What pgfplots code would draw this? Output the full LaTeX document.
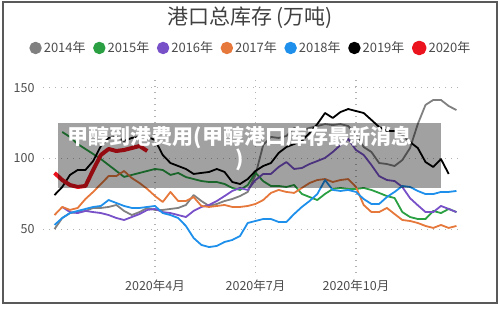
\documentclass[border=0pt]{standalone}
\usepackage{fontspec}
\setmainfont{Noto Sans CJK SC}
\usepackage{pgfplots}
\pgfplotsset{compat=1.18}
\definecolor{c14}{HTML}{808080}
\definecolor{c15}{HTML}{2AA043}
\definecolor{c16}{HTML}{7850C8}
\definecolor{c17}{HTML}{E6783C}
\definecolor{c18}{HTML}{1E90EB}
\definecolor{c19}{HTML}{000000}
\definecolor{c20}{HTML}{EB141E}
\begin{document}
\begin{tikzpicture}[x=1pt,y=1pt]
\useasboundingbox (0,0) rectangle (500,310);
\draw[line width=1.5pt, draw=black!65] (3,7) rectangle (497,308);
\node[font=\fontsize{21}{24}\selectfont, text=black!75] at (250,292) {港口总库存 (万吨)};
\begin{axis}[
  at={(43pt,37pt)}, anchor=south west,
  width=420pt, height=195pt, scale only axis,
  xmin=-1.49, xmax=52.85, ymin=19.2, ymax=156.8,
  axis line style={draw=none}, tick style={draw=none},
  xtick={13,26,39}, xticklabels={2020年4月,2020年7月,2020年10月},
  ytick={50,100,150},
  grid=major,
  grid style={line width=1.1pt, dash pattern=on 1.1pt off 4.9pt, color=black!30},
  ticklabel style={font=\fontsize{12.5}{14}\selectfont, text=black!70},
  yticklabel style={xshift=-5pt},
  xticklabel style={yshift=-3pt},
  /pgf/number format/assume math mode=true,
  legend columns=-1,
  legend style={at={(0.495,1.154)}, anchor=center, draw=none, fill=none,
    font=\fontsize{13}{15}\selectfont, text=black!70,
    /tikz/every even column/.append style={column sep=5.5pt}},
  legend image code/.code={\fill[#1] (0pt,0pt) circle (5.3pt);},
  every axis plot/.append style={line width=1.8pt, line join=round, mark=none},
]
\addplot[c14] coordinates {(0,50.2)(1,58)(2,61.5)(3,62.2)(4,63)(5,65.1)(6,65.1)(7,65.8)(8,67.2)(9,63)(10,60.1)(11,62.2)(12,65.1)(13,63.7)(14,63.7)(15,64.4)(16,65.1)(17,67.2)(18,74.2)(19,70)(20,66.5)(21,67.9)(22,70)(23,71.4)(24,73.5)(25,76.4)(26,88.4)(27,109.5)(28,115.2)(29,114.5)(30,115.9)(31,121.5)(32,120.1)(33,121.5)(34,122.9)(35,124.3)(36,123.6)(37,124.3)(38,122.9)(39,116.6)(40,108.1)(41,104.6)(42,96.8)(43,96.1)(44,94.7)(45,98.9)(46,107.4)(47,124.3)(48,137.8)(49,141.3)(50,141.3)(51,137)(52,134.2)};
\addlegendentry{2014年}
\addplot[c15] coordinates {(1,118.7)(2,115.2)(3,110.2)(4,106.7)(5,103.2)(6,99.6)(7,95.4)(8,91.2)(9,87)(10,88.4)(11,89.8)(12,91.2)(13,92.6)(14,91.9)(15,88.4)(16,89.8)(17,86.9)(18,85.5)(19,84.1)(20,83.4)(21,83.4)(22,82)(23,79.2)(24,77.8)(25,81.3)(26,90)(27,84)(28,80.6)(29,80.6)(30,79.9)(31,81.3)(32,75)(33,72.8)(34,70.7)(35,75)(36,78.5)(37,79.2)(38,78.5)(39,78.5)(40,79.2)(41,77.8)(42,75.7)(43,73.5)(44,72.1)(45,62.2)(46,58.7)(47,57.3)(48,57.3)(49,63)(50,61.5)(51,64.4)(52,62.2)};
\addlegendentry{2015年}
\addplot[c16] coordinates {(1,65.8)(2,62.2)(3,61.5)(4,63)(5,62.2)(6,61.5)(7,60.1)(8,58)(9,56.6)(10,58.7)(11,60.8)(12,63.7)(13,64.4)(14,62.2)(15,61.5)(16,60.1)(17,58.7)(18,63)(19,65.8)(20,67.2)(21,70)(22,73.5)(23,77.1)(24,79.2)(25,77.8)(26,84.8)(27,89.1)(28,89.1)(29,94)(30,97.5)(31,92.6)(32,93.3)(33,96.1)(34,98.2)(35,100.4)(36,104.6)(37,109.5)(38,113.8)(39,106)(40,102.5)(41,95.4)(42,87.6)(43,84.8)(44,84.1)(45,79.9)(46,72)(47,67)(48,62.2)(49,62.2)(50,66.5)(51,64.4)(52,62.2)};
\addlegendentry{2016年}
\addplot[c17] coordinates {(0,60.1)(1,65.8)(2,63.7)(3,65.1)(4,71.4)(5,76.4)(6,82)(7,87.6)(8,87.6)(9,91.2)(10,86.2)(11,82.7)(12,78.5)(13,73.5)(14,69.3)(15,76.4)(16,70)(17,70)(18,72.8)(19,66.5)(20,65.8)(21,66.5)(22,67.2)(23,65.8)(24,65.8)(25,66.5)(26,67.9)(27,70.7)(28,75.7)(29,77.8)(30,76.4)(31,75.7)(32,79.2)(33,82.7)(34,84.8)(35,85.5)(36,83.4)(37,84.8)(38,85.5)(39,79.9)(40,67.2)(41,62.2)(42,62.2)(43,65.1)(44,60.8)(45,56.6)(46,55.9)(47,54.5)(48,52.4)(49,51)(50,53.1)(51,51)(52,52.4)};
\addlegendentry{2017年}
\addplot[c18] coordinates {(0,53.1)(1,58)(2,61.5)(3,63)(4,64.4)(5,65.8)(6,66.5)(7,70.7)(8,68.6)(9,66.5)(10,65.1)(11,65.1)(12,65.8)(13,66.5)(14,61.5)(15,60.1)(16,58)(17,52.4)(18,43.9)(19,39)(20,37.5)(21,38.3)(22,41.1)(23,42.5)(24,45.3)(25,54.5)(26,55.9)(27,57.3)(28,57.3)(29,55.2)(30,55.2)(31,60.8)(32,65.8)(33,70)(34,74.9)(35,84.8)(36,77.8)(37,77.1)(38,77.8)(39,76.4)(40,71.4)(41,67.9)(42,67.9)(43,72.8)(44,76.4)(45,80.6)(46,79.9)(47,77.1)(48,74.9)(49,74.9)(50,76.4)(51,76.4)(52,77.1)};
\addlegendentry{2018年}
\addplot[c19] coordinates {(0,74.2)(1,79.9)(2,88.4)(3,91.9)(4,91.9)(5,98.2)(6,108.8)(7,114.5)(8,115.2)(9,112.4)(10,114.5)(11,115.2)(12,115.2)(13,113.1)(14,102.5)(15,96.8)(16,94.7)(17,92.6)(18,89.1)(19,89.8)(20,90.5)(21,92.6)(22,90.5)(23,83.4)(24,82)(25,85.5)(26,91.2)(27,94.7)(28,96.8)(29,103.9)(30,108.1)(31,110.2)(32,112.4)(33,118)(34,124.3)(35,132.1)(36,128.6)(37,132.8)(38,134.9)(39,133.5)(40,132.1)(41,127.2)(42,122.2)(43,119.4)(44,119.4)(45,116.6)(46,111.6)(47,107.4)(48,97.5)(49,94)(50,99.6)(51,89.1)};
\addlegendentry{2019年}
\addplot[c20, line width=4pt] coordinates {(0,89.8)(1,84.8)(2,81.3)(3,79.9)(4,80.6)(5,91.9)(6,102.5)(7,106.7)(8,105.3)(9,106)(10,107.4)(11,108.8)(12,105.3)};
\addlegendentry{2020年}
\end{axis}
\fill[black, opacity=0.37] (58,122) rectangle (441,187);
\node[text=white, font=\fontsize{21}{22}\selectfont\bfseries, align=center] at (240,161) {甲醇到港费用(甲醇港口库存最新消息\\)};
\end{tikzpicture}
\end{document}
